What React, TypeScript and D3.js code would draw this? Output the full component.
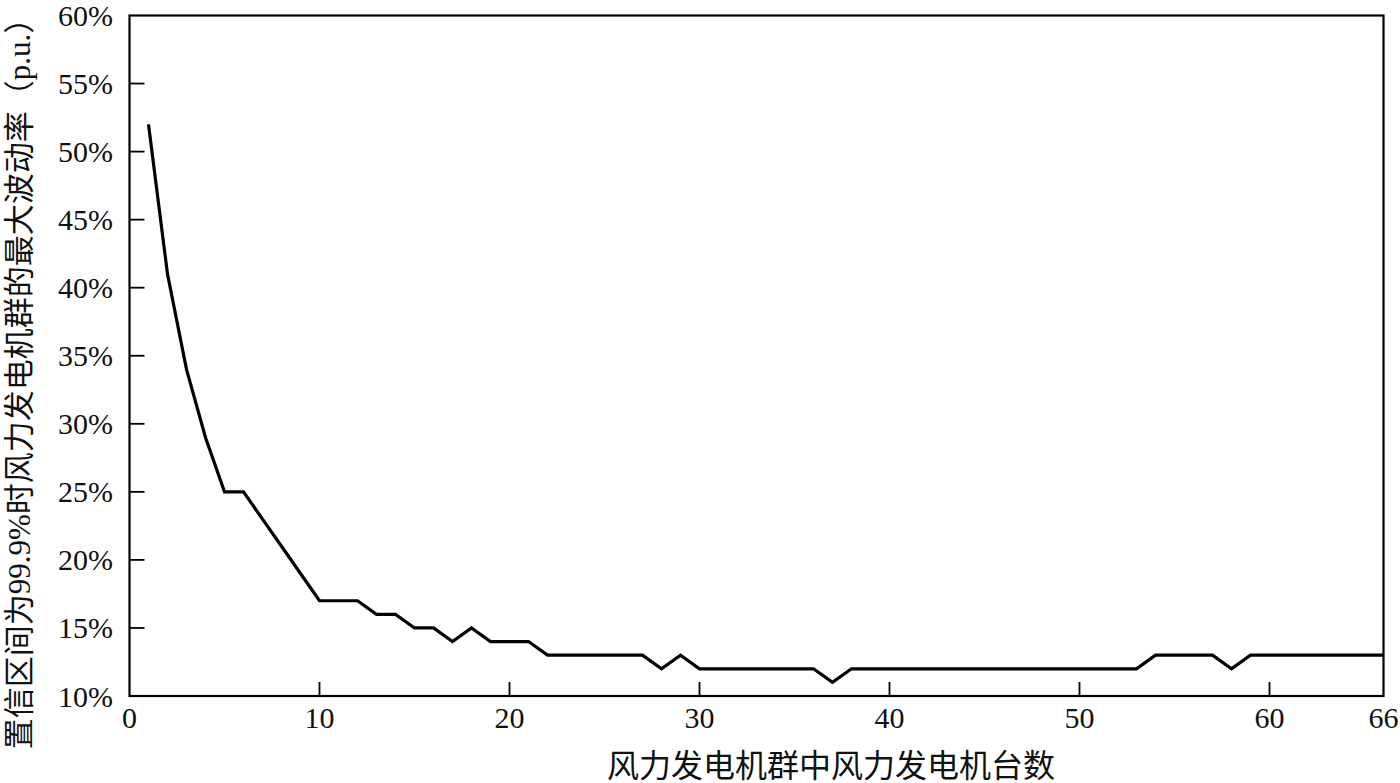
import React from "react";
import * as d3 from "d3";

const turbineCounts: number[] = [
  1, 2, 3, 4, 5, 6, 7, 8, 9, 10, 11, 12, 13, 14, 15, 16, 17, 18, 19, 20, 21, 22,
  23, 24, 25, 26, 27, 28, 29, 30, 31, 32, 33, 34, 35, 36, 37, 38, 39, 40, 41, 42,
  43, 44, 45, 46, 47, 48, 49, 50, 51, 52, 53, 54, 55, 56, 57, 58, 59, 60, 61, 62,
  63, 64, 65, 66,
];
const maxFluctuation: number[] = [
  52, 41, 34, 29, 25, 25, 23, 21, 19, 17, 17, 17, 16, 16, 15, 15, 14, 15, 14, 14, 14, 13,
  13, 13, 13, 13, 13, 12, 13, 12, 12, 12, 12, 12, 12, 12, 11, 12, 12, 12, 12, 12,
  12, 12, 12, 12, 12, 12, 12, 12, 12, 12, 12, 13, 13, 13, 13, 12, 13, 13, 13, 13,
  13, 13, 13, 13,
];
const xTicks: number[] = [0, 10, 20, 30, 40, 50, 60, 66];
const yTicks: number[] = [10, 15, 20, 25, 30, 35, 40, 45, 50, 55, 60];
const xTitle = "风力发电机群中风力发电机台数";
const yTitle = "置信区间为99.9%时风力发电机群的最大波动率（p.u.）";

const W = 1400;
const H = 783;
const left = 129.5;
const right = 1383.5;
const top = 15.5;
const bottom = 696;
const FONT = "'Liberation Serif', 'Noto Sans CJK SC', serif";

export default function App() {
  const x = d3.scaleLinear().domain([0, 66]).range([left, right]);
  const y = d3.scaleLinear().domain([10, 60]).range([bottom, top]);
  const pts: [number, number][] = turbineCounts.map((c, i) => [c, maxFluctuation[i]]);
  const line = d3
    .line<[number, number]>()
    .x((d) => x(d[0]))
    .y((d) => y(d[1]));

  return (
    <svg
      width={W}
      height={H}
      style={{ position: "absolute", left: 0, top: 0, background: "#fff" }}
    >
      <rect x={0} y={0} width={W} height={H} fill="#fff" />
      {/* frame */}
      <rect
        x={left}
        y={top}
        width={right - left}
        height={bottom - top}
        fill="none"
        stroke="#000"
        strokeWidth={2.2}
      />
      {/* y ticks */}
      {yTicks.map((t) => (
        <g key={"y" + t}>
          {t !== 10 && t !== 60 && (
            <line x1={left} x2={left + 15} y1={y(t)} y2={y(t)} stroke="#000" strokeWidth={1.8} />
          )}
          <text
            x={113}
            y={y(t)}
            dy="0.35em"
            textAnchor="end"
            fontFamily={FONT}
            fontSize={30}
            fill="#111"
          >
            {t}%
          </text>
        </g>
      ))}
      {/* x ticks */}
      {xTicks.map((t) => (
        <g key={"x" + t}>
          {t !== 0 && t !== 66 && (
            <line x1={x(t)} x2={x(t)} y1={bottom} y2={bottom - 14} stroke="#000" strokeWidth={1.8} />
          )}
          <text
            x={x(t)}
            y={728}
            textAnchor="middle"
            fontFamily={FONT}
            fontSize={30}
            fill="#111"
          >
            {t}
          </text>
        </g>
      ))}
      {/* data line */}
      <path d={line(pts) ?? ""} fill="none" stroke="#000" strokeWidth={3.2} strokeLinejoin="miter" />
      {/* titles */}
      <text
        x={831}
        y={777}
        textAnchor="middle"
        fontFamily={FONT}
        fontSize={32}
        fill="#111"
      >
        {xTitle}
      </text>
      <text
        transform={`translate(30, 376) rotate(-90)`}
        textAnchor="middle"
        fontFamily={FONT}
        fontSize={31}
        fill="#111"
      >
        {yTitle}
      </text>
    </svg>
  );
}
